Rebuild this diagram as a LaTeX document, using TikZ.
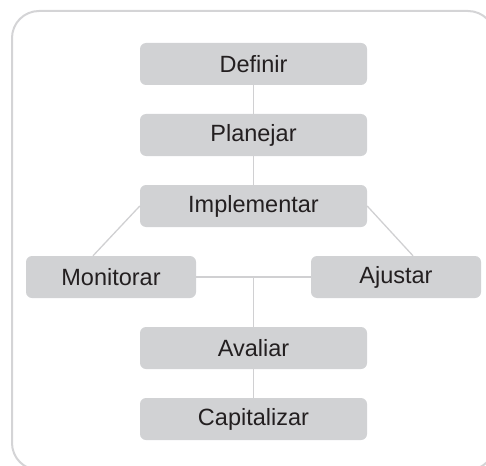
\documentclass[tikz,border=0pt]{standalone}
\usepackage{fontspec}
\setmainfont{Liberation Sans}
\definecolor{boxfill}{HTML}{D1D2D4}
\definecolor{linkgray}{HTML}{D0D0D2}
\definecolor{framegray}{HTML}{D4D4D6}
\definecolor{textdark}{HTML}{231F20}
\begin{document}
\begin{tikzpicture}[x=1pt,y=-1pt,
  stepbox/.style={fill=boxfill, draw=none, rounded corners=6pt, inner sep=0pt,
    text=textdark, font=\fontsize{23.5}{28}\selectfont},
  link/.style={draw=linkgray, line width=1.3pt}]
\useasboundingbox (0,0) rectangle (486,465);
% outer frame, partly cut off at the right and bottom
\begin{scope}
\clip (0,0) rectangle (486,465);
\draw[framegray, line width=2pt, rounded corners=27pt] (12,11) rectangle (495,470);
\end{scope}
% process steps
\node[stepbox, minimum width=227pt, minimum height=42pt] (def) at (253.5,64) {Definir};
\node[stepbox, minimum width=227pt, minimum height=42pt] (pla) at (253.5,135) {Planejar};
\node[stepbox, minimum width=227pt, minimum height=42pt] (imp) at (253.5,206) {Implementar};
\node[stepbox, minimum width=170pt, minimum height=42pt] (mon) at (111,277) {Monitorar};
\node[stepbox, minimum width=170pt, minimum height=42pt] (aju) at (396,277) {Ajustar};
\node[stepbox, minimum width=227pt, minimum height=42pt] (ava) at (253.5,348) {Avaliar};
\node[stepbox, minimum width=227pt, minimum height=42pt] (cap) at (253.5,419) {Capitalizar};
% connectors
\coordinate (mid) at (253.5,277);
\draw[link] (def.south) -- (pla.north);
\draw[link] (pla.south) -- (imp.north);
\draw[link] (imp.west) -- ([xshift=-18pt]mon.north);
\draw[link] (imp.east) -- ([xshift=17pt]aju.north);
\draw[link] (mon.east) -- (aju.west);
\draw[link] (mid) -- (ava.north);
\draw[link] (ava.south) -- (cap.north);
\end{tikzpicture}
\end{document}
